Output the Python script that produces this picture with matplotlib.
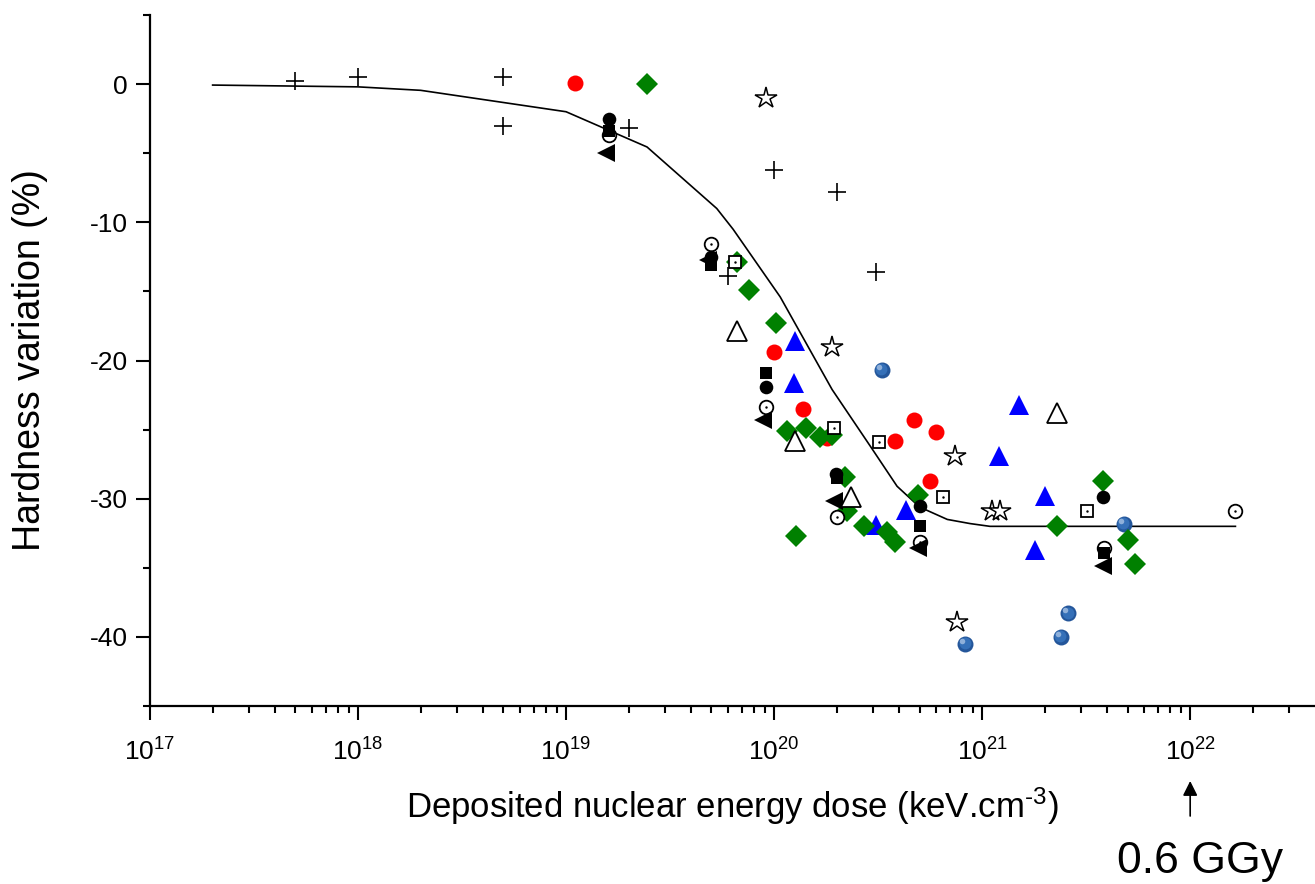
import numpy as np
import matplotlib
matplotlib.use("Agg")
import matplotlib.pyplot as plt
from matplotlib.ticker import MultipleLocator, LogLocator, LogFormatterSciNotation
from matplotlib.transforms import offset_copy

plt.rcParams['font.family'] = ['Liberation Sans', 'DejaVu Sans']
plt.rcParams['mathtext.fontset'] = 'custom'
plt.rcParams['mathtext.rm'] = 'Liberation Sans'
plt.rcParams['mathtext.it'] = 'Liberation Sans'
plt.rcParams['mathtext.default'] = 'regular'
plt.rcParams['axes.unicode_minus'] = False

# ---------------- data ----------------
fit_x = [2e17, 1e18, 2e18, 1e19, 2.45e19, 5.3e19, 6.35e19, 1.07e20, 1.9e20,
         2.9e20, 3.9e20, 5.0e20, 6.8e20, 8.75e20, 1.09e21, 1.65e22]
fit_y = [-0.07, -0.2, -0.45, -2.0, -4.55, -9.0, -10.5, -15.4, -22.1,
         -26.2, -29.1, -30.6, -31.5, -31.8, -32.0, -32.0]

cross_x = [5e17, 1e18, 5e18, 5e18, 2e19, 6e19, 1e20, 2e20, 3.1e20]
cross_y = [0.2, 0.5, 0.5, -3.0, -3.2, -13.9, -6.2, -7.8, -13.6]

red_x = [1.1e19, 1.0e20, 1.38e20, 1.8e20, 3.8e20, 4.7e20, 6.0e20, 5.6e20]
red_y = [0.1, -19.4, -23.5, -25.6, -25.8, -24.3, -25.2, -28.7]

green_x = [2.45e19, 6.6e19, 7.6e19, 1.02e20, 1.15e20, 1.42e20, 1.66e20, 1.9e20,
           2.2e20, 2.25e20, 1.28e20, 2.7e20, 3.5e20, 3.8e20, 4.9e20,
           2.3e21, 3.8e21, 5.0e21, 5.4e21]
green_y = [0.0, -12.9, -14.9, -17.3, -25.1, -24.9, -25.5, -25.4,
           -28.4, -30.9, -32.7, -32.0, -32.4, -33.1, -29.7,
           -32.0, -28.7, -33.0, -34.7]

blue_tri_x = [1.26e20, 1.24e20, 3.1e20, 4.3e20, 1.5e21, 1.2e21, 2.0e21, 1.8e21]
blue_tri_y = [-18.6, -21.6, -31.9, -30.8, -23.2, -26.9, -29.8, -33.7]

sphere_x = [3.3e20, 8.3e20, 4.8e21, 2.6e21, 2.4e21]
sphere_y = [-20.7, -40.5, -31.8, -38.3, -40.0]

star_x = [9.1e19, 1.9e20, 7.4e20, 1.12e21, 1.22e21, 7.6e20]
star_y = [-1.0, -19.0, -26.9, -30.9, -30.9, -38.9]

open_circ_x = [1.6e19, 5.0e19, 9.1e19, 2.0e20, 5.0e20, 3.85e21, 1.65e22]
open_circ_y = [-3.7, -11.6, -23.4, -31.3, -33.1, -33.6, -30.9]

black_sq_x = [1.6e19, 5.0e19, 9.1e19, 2.0e20, 5.0e20, 3.85e21]
black_sq_y = [-3.4, -13.1, -20.9, -28.5, -32.0, -33.9]

black_circ_x = [1.6e19, 5.0e19, 9.1e19, 1.98e20, 5.0e20, 3.8e21]
black_circ_y = [-2.5, -12.5, -21.9, -28.2, -30.5, -29.9]

left_tri_x = [1.55e19, 4.8e19, 8.8e19, 1.95e20, 4.9e20, 3.8e21]
left_tri_y = [-5.0, -12.7, -24.3, -30.2, -33.6, -34.9]

open_sq_x = [6.5e19, 1.95e20, 3.2e20, 6.5e20, 3.2e21]
open_sq_y = [-12.9, -24.9, -25.9, -29.9, -30.9]

open_tri_x = [6.6e19, 1.26e20, 2.35e20, 2.3e21]
open_tri_y = [-17.9, -25.8, -29.9, -23.8]

x_label = r"Deposited nuclear energy dose (keV.cm$^{\text{-}3}$)"
y_label = "Hardness variation (%)"
note_text = "0.6 GGy"

# ---------------- figure ----------------
fig = plt.figure(figsize=(13.15, 8.84), dpi=100)
ax = fig.add_axes([150/1315, 1-706/884, (1315-150)/1315, (706-15)/884])

ax.set_xscale('log')
ax.set_xlim(1e17, 10**22.60)
ax.set_ylim(-45, 5)

ax.plot(fit_x, fit_y, color='black', lw=1.2, zorder=2)

ax.plot(cross_x, cross_y, ls='none', marker='+', ms=12.5, mew=1.2, color='black', zorder=3)
ax.plot(red_x, red_y, ls='none', marker='o', ms=11.5, mfc='#ff0000', mec='#ff0000', mew=0, zorder=3)
ax.plot(blue_tri_x, blue_tri_y, ls='none', marker='^', ms=14.5, mfc='#0000ff', mec='#0000ff', mew=0, zorder=3)

# shaded blue spheres
ax.plot(sphere_x, sphere_y, ls='none', marker='o', ms=11.5, mfc='#24569a', mec='#24569a', mew=0, zorder=3)
t1 = offset_copy(ax.transData, fig=fig, x=-0.8, y=0.8, units='dots')
ax.plot(sphere_x, sphere_y, ls='none', marker='o', ms=8.5, mfc='#3570b8', mec='#3570b8', mew=0, zorder=3, transform=t1)
t2 = offset_copy(ax.transData, fig=fig, x=-3, y=3, units='dots')
ax.plot(sphere_x, sphere_y, ls='none', marker='o', ms=4, mfc='#8fb0da', mec='#8fb0da', mew=0, zorder=3, transform=t2)

ax.plot(green_x, green_y, ls='none', marker='D', ms=11.3, mfc='#008000', mec='#008000', mew=0, zorder=4)
ax.plot(star_x, star_y, ls='none', marker='*', ms=16, mfc='white', mec='black', mew=1.1, zorder=4)

ax.plot(open_circ_x, open_circ_y, ls='none', marker='o', ms=9.8, mfc='white', mec='black', mew=1.3, zorder=5)
ax.plot(open_circ_x, open_circ_y, ls='none', marker='.', ms=1.5, color='black', zorder=5)
ax.plot(black_sq_x, black_sq_y, ls='none', marker='s', ms=8, mfc='black', mec='black', mew=0, zorder=5)
ax.plot(black_circ_x, black_circ_y, ls='none', marker='o', ms=9.8, mfc='black', mec='black', mew=0, zorder=5)
ax.plot(left_tri_x, left_tri_y, ls='none', marker='<', ms=12.5, mfc='black', mec='black', mew=0, zorder=5)
ax.plot(open_sq_x, open_sq_y, ls='none', marker='s', ms=8.5, mfc='white', mec='black', mew=1.3, zorder=5)
ax.plot(open_sq_x, open_sq_y, ls='none', marker='.', ms=1.5, color='black', zorder=5)
ax.plot(open_tri_x, open_tri_y, ls='none', marker='^', ms=14.5, mfc='white', mec='black', mew=1.3, zorder=6)

# axes styling
for s in ['top', 'right']:
    ax.spines[s].set_visible(False)
for s in ['left', 'bottom']:
    ax.spines[s].set_linewidth(1.6)

ax.yaxis.set_major_locator(MultipleLocator(10))
ax.yaxis.set_minor_locator(MultipleLocator(5))
ax.xaxis.set_major_locator(LogLocator(base=10, numticks=20))
ax.xaxis.set_minor_locator(LogLocator(base=10, subs=np.arange(2, 10), numticks=20))
ax.xaxis.set_major_formatter(LogFormatterSciNotation())

ax.tick_params(which='major', direction='out', length=10, width=1.5, labelsize=19)
ax.tick_params(which='minor', direction='out', length=5, width=1.5)
ax.tick_params(axis='x', which='major', pad=13)
ax.tick_params(axis='y', which='major', pad=6)

ax.set_xlabel(x_label, fontsize=25, labelpad=15)
ax.set_ylabel(y_label, fontsize=27, labelpad=30)

ax.annotate('', xy=(1e22, 1-781/884), xycoords=('data', 'figure fraction'),
            xytext=(1e22, 1-816/884), textcoords=('data', 'figure fraction'),
            arrowprops=dict(arrowstyle='-|>', color='black', lw=1.2,
                            mutation_scale=22, shrinkA=0, shrinkB=0))
fig.text(1200/1315, 1-862/884, note_text, fontsize=32, ha='center', va='center')

fig.savefig('out.png', dpi=100)
